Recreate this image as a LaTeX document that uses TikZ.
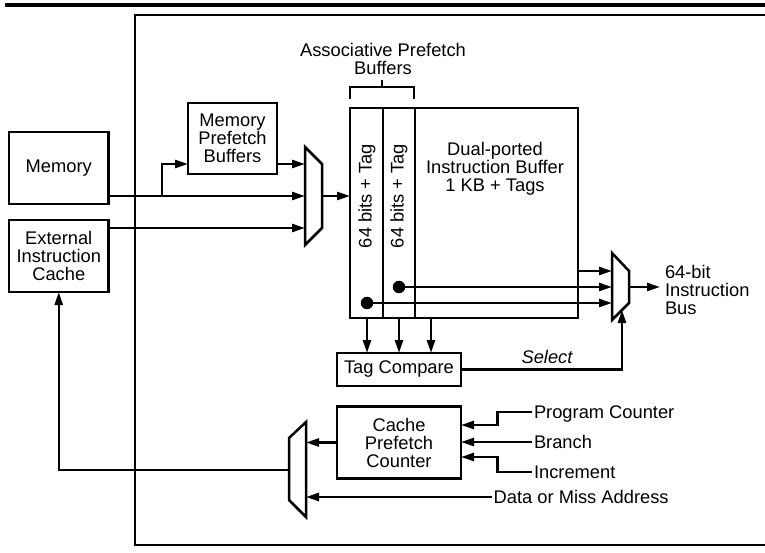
\documentclass[tikz,border=0pt]{standalone}
\usepackage{fontspec}
\setmainfont{Liberation Sans}
\usetikzlibrary{arrows.meta}
\begin{document}
\begin{tikzpicture}[x=1pt,y=-1pt,
  txt/.style={font=\fontsize{18.3}{18}\selectfont},
  box/.style={draw, line width=2.5pt, inner sep=0pt, outer sep=0pt, align=center, txt},
  lbl/.style={inner sep=0pt, outer sep=0pt, align=center, txt},
  side/.style={anchor=west, inner xsep=2pt, inner ysep=0pt, outer sep=0pt, text depth=0pt, txt},
  arr/.style={line width=2.5pt, -{Triangle[length=13pt,width=8pt]}},
  wire/.style={line width=2.5pt},
  muxs/.style={draw, line width=2.5pt, line join=miter},
  dotc/.style={fill, circle, inner sep=0pt, outer sep=0pt, minimum size=12.5pt}
]
\useasboundingbox (0,0) rectangle (765,553);

% top rule and frame
\draw[line width=4.2pt] (5,5.3) -- (765,5.3);
\draw[wire] (765,15) -- (135,15) -- (135,545) -- (765,545);

% left boxes
\node[box, minimum width=99.5pt, minimum height=72pt] (mem) at (58.75,168) {Memory};
\node[box, minimum width=99.5pt, minimum height=72pt] (ext) at (58.75,256) {External\\Instruction\\Cache};
\node[box, minimum width=89pt, minimum height=71pt] (mpb) at (232.5,138.5) {Memory\\Prefetch\\Buffers};

% instruction buffer
\node[box, minimum width=228pt, minimum height=210pt] (buf) at (464,213) {};
\draw[wire] (383,108) -- (383,318);
\draw[wire] (415,108) -- (415,318);
\node[lbl] (dual) at (495,168.5) {Dual-ported\\Instruction Buffer\\1 KB + Tags};
\node[lbl, rotate=90] (tag1) at (367,196) {64 bits + Tag};
\node[lbl, rotate=90] (tag2) at (399,196) {64 bits + Tag};

% bracket and label
\draw[wire] (350,99) -- (350,87) -- (414,87) -- (414,99);
\draw[wire] (382,87) -- (382,80);
\node[lbl] (apb) at (383,58.5) {Associative Prefetch\\Buffers};

% input mux
\draw[muxs] (305,147) -- (322,164) -- (322,228) -- (305,245) -- cycle;
\coordinate (m1a) at (305,164);
\coordinate (m1b) at (305,196);
\coordinate (m1c) at (305,228);
\coordinate (m1o) at (322,196);
\coordinate (br) at (162,196);

\draw[arr] (mem.east |- m1b) -- (m1b);
\draw[arr] (br) |- (mpb.west |- m1a);
\draw[arr] (mpb.east |- m1a) -- (m1a);
\draw[arr] (ext.east |- m1c) -- (m1c);
\draw[arr] (m1o) -- (buf.west |- m1o);

% output mux
\draw[muxs] (612,253) -- (629,271) -- (629,303) -- (612,320) -- cycle;
\coordinate (m2a) at (612,271);
\coordinate (m2b) at (612,287);
\coordinate (m2c) at (612,303);
\coordinate (m2o) at (629,287);
\coordinate (m2s) at (622,310);

\node[dotc] (d1) at (367,303) {};
\node[dotc] (d2) at (399,287) {};
\draw[arr] (buf.east |- m2a) -- (m2a);
\draw[arr] (d2.center) -- (m2b);
\draw[arr] (d1.center) -- (m2c);

\node[anchor=west, inner xsep=2pt, inner ysep=0pt, outer sep=0pt, align=left, txt] (bus) at (663,289.5) {64-bit\\Instruction\\Bus};
\draw[arr] (m2o) -- ([xshift=-3pt]bus.west |- m2o);

% tag compare
\node[box, minimum width=124pt, minimum height=33pt] (tc) at (399,369.5) {Tag Compare};
\coordinate (c3) at (431,318);
\draw[arr] (buf.south -| d1) -- (tc.north -| d1);
\draw[arr] (buf.south -| d2) -- (tc.north -| d2);
\draw[arr] (c3) -- (tc.north -| c3);
\draw[arr] (tc.east) -| (m2s);
\node[lbl, font=\fontsize{18.3}{18}\selectfont\itshape] (sel) at (547,357) {Select};

% cache prefetch counter
\node[box, minimum width=124pt, minimum height=72pt] (cpc) at (399,442.5) {Cache\\Prefetch\\Counter};
\draw[muxs] (306,422) -- (306,517) -- (289,500) -- (289,438) -- cycle;
\coordinate (m3a) at (306,442);
\coordinate (m3b) at (306,497);
\coordinate (m3o) at (289,470);
\draw[arr] (cpc.west) -- (cpc.west -| m3a);
\draw[arr] (m3o) -| (ext.south);

\node[side] (pc) at (532,412) {Program Counter};
\node[side] (brn) at (532,442) {Branch};
\node[side] (inc) at (532,472) {Increment};
\node[side] (dat) at (491.7,497) {Data or Miss Address};
\coordinate (j1) at (497.7,412);
\coordinate (j2) at (497.7,472);
\coordinate (pin) at (461,425);
\coordinate (iin) at (461,457);
\draw[arr] (pc.west) -- (j1) |- (pin);
\draw[arr] (brn.west) -- (brn.west -| cpc.east);
\draw[arr] (inc.west) -- (j2) |- (iin);
\draw[arr] (dat.west) -- (dat.west -| m3b);
\end{tikzpicture}
\end{document}
